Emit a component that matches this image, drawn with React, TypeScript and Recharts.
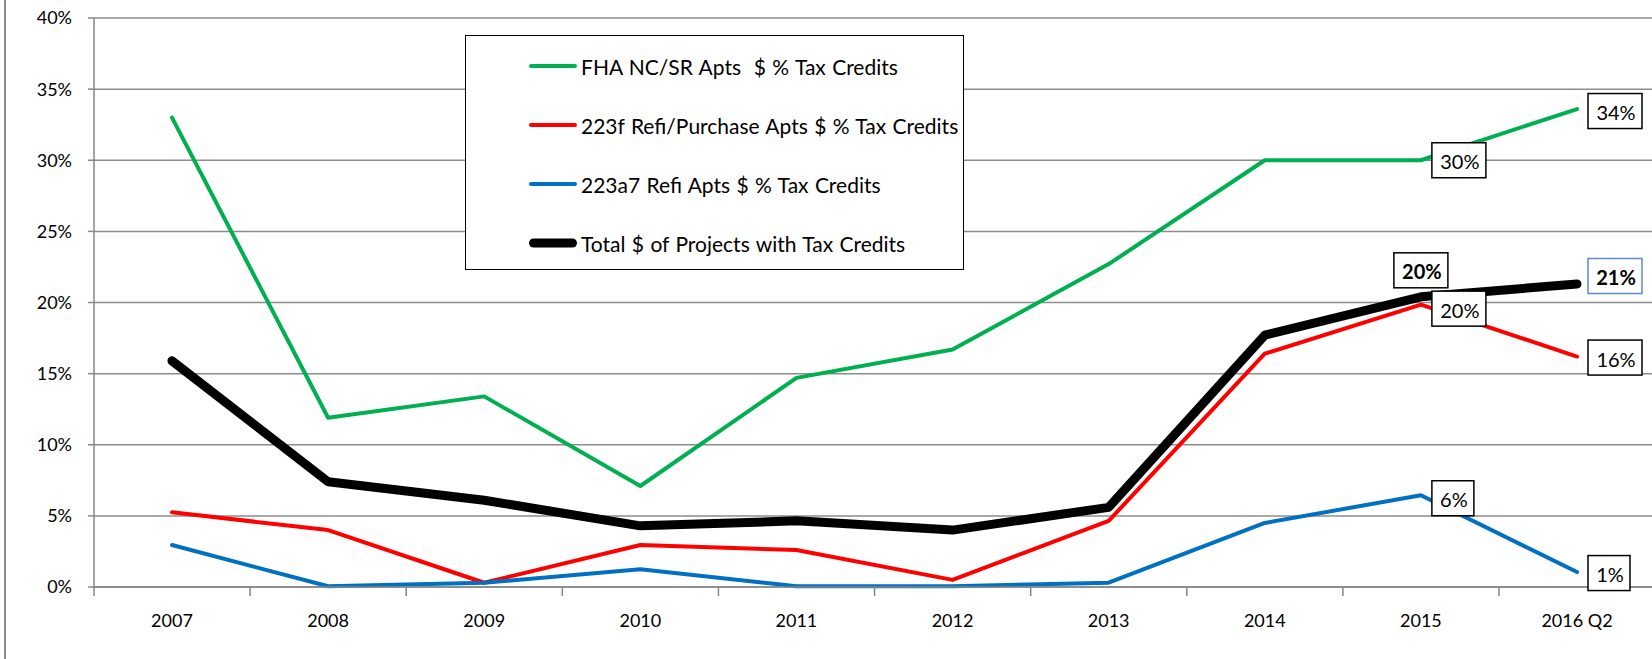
import React from 'react';
import { LineChart, Line, XAxis, YAxis, CartesianGrid, LabelList } from 'recharts';

const categories = ['2007', '2008', '2009', '2010', '2011', '2012', '2013', '2014', '2015', '2016 Q2'];
const fhaNcSr = [33.0, 11.9, 13.4, 7.1, 14.7, 16.7, 22.7, 30.0, 30.0, 33.6];
const refi223f = [5.25, 4.0, 0.3, 2.95, 2.6, 0.5, 4.65, 16.4, 19.85, 16.2];
const refi223a7 = [2.95, 0.05, 0.3, 1.25, 0.05, 0.05, 0.3, 4.5, 6.45, 1.05];
const totalTax = [15.9, 7.4, 6.1, 4.3, 4.65, 4.0, 5.6, 17.7, 20.4, 21.3];
const yTicks = [0, 5, 10, 15, 20, 25, 30, 35, 40];

const seriesKeys = ['fha', 'refi', 'a7', 'total'];
const seriesNames = [
  'FHA NC/SR Apts  $ % Tax Credits',
  '223f Refi/Purchase Apts $ % Tax Credits',
  '223a7 Refi Apts $ % Tax Credits',
  'Total $ of Projects with Tax Credits',
];
const seriesColors = ['#00B050', '#FF0000', '#0070C0', '#000000'];
const seriesWidths = [4, 4, 4, 9];

// which points carry a boxed label: [placement, vertical nudge]
const labelSpots: Record<string, Record<number, [string, number]>> = {
  fha: { 8: ['right', 0], 9: ['right', 2] },
  refi: { 8: ['right', 4], 9: ['right', 1] },
  a7: { 8: ['right', 3], 9: ['right', 1] },
  total: { 8: ['top', 0], 9: ['right', -8] },
};

const data = categories.map((cat, i) => ({
  cat,
  fha: fhaNcSr[i],
  refi: refi223f[i],
  a7: refi223a7[i],
  total: totalTax[i],
}));

const FONT = 'Lato, "Open Sans", sans-serif';
const HALF_STEP = 78;

const XTick = (props: any) => {
  const { x, y, payload } = props;
  return (
    <g>
      <line x1={x - HALF_STEP} x2={x - HALF_STEP} y1={y} y2={y + 9} stroke="#878787" strokeWidth={1.5} />
      <text x={x} y={y + 40} textAnchor="middle" fontSize={18} fill="#000" fontFamily={FONT}>
        {payload.value}
      </text>
    </g>
  );
};

const BoxLabel = (props: any) => {
  const { x, y, value, index, seriesKey } = props;
  const spot = labelSpots[seriesKey][index];
  if (!spot || x == null || y == null) return null;
  const [pos, nudge] = spot;
  const bold = seriesKey === 'total';
  const text = `${Math.round(value)}%`;
  const w = text.length === 2 ? 42 : 54;
  const h = 35;
  let bx = x + 11;
  let by = y - h / 2 + nudge;
  if (pos === 'top') {
    bx = x - w / 2;
    by = y - 9 - h;
  }
  const border = bold && pos === 'right' ? '#5B8BD0' : '#000';
  return (
    <g>
      <rect x={bx} y={by} width={w} height={h} fill="#fff" stroke={border} strokeWidth={1.5} />
      <text
        x={bx + w / 2 + 1}
        y={by + h / 2 + 1}
        textAnchor="middle"
        dominantBaseline="central"
        fontSize={20}
        fontWeight={bold ? 700 : 400}
        fill="#000"
        fontFamily={FONT}
      >
        {text}
      </text>
    </g>
  );
};

const ChartLegend = () => (
  <div
    style={{
      position: 'absolute',
      left: 465,
      top: 35,
      width: 499,
      height: 235,
      border: '1.5px solid #000',
      background: '#fff',
      boxSizing: 'border-box',
    }}
  >
    {seriesNames.map((name, i) => (
      <div
        key={name}
        style={{ position: 'absolute', left: 62, top: 13 + i * 59, height: 34, display: 'flex', alignItems: 'center' }}
      >
        <svg width={50} height={14} style={{ marginRight: 3 }}>
          <line
            x1={seriesWidths[i] / 2 + 1}
            x2={49 - seriesWidths[i] / 2}
            y1={7}
            y2={7}
            stroke={seriesColors[i]}
            strokeWidth={seriesWidths[i]}
            strokeLinecap="round"
          />
        </svg>
        <span style={{ fontFamily: FONT, fontSize: 21, wordSpacing: 1, color: '#000', whiteSpace: 'pre' }}>
          {name}
        </span>
      </div>
    ))}
  </div>
);

export default function App() {
  return (
    <div
      style={{
        position: 'absolute',
        left: 0,
        top: 0,
        width: 1652,
        height: 659,
        overflow: 'hidden',
        background: '#fff',
        fontFamily: FONT,
      }}
    >
      <div style={{ position: 'absolute', left: 4, top: 0, height: 659, borderLeft: '2px solid #8a8a8a' }} />
      <LineChart width={1700} height={659} data={data} margin={{ top: 18, right: 45, bottom: 0, left: 34 }}>
        <CartesianGrid vertical={false} stroke="#8c8c8c" strokeWidth={1.5} />
        <XAxis
          dataKey="cat"
          padding={{ left: HALF_STEP, right: HALF_STEP }}
          height={72}
          interval={0}
          tickLine={false}
          tickSize={0}
          tickMargin={0}
          axisLine={{ stroke: '#878787', strokeWidth: 1.5 }}
          tick={<XTick />}
        />
        <YAxis
          domain={[0, 40]}
          ticks={yTicks}
          width={60}
          tickFormatter={(v: number) => `${v}%`}
          axisLine={{ stroke: '#878787', strokeWidth: 1.5 }}
          tickLine={{ stroke: '#878787', strokeWidth: 1.5 }}
          tickSize={6}
          tickMargin={16}
          tick={{ fontSize: 18, fill: '#000', fontFamily: FONT }}
        />
        {seriesKeys.map((k, i) => (
          <Line
            key={k}
            type="linear"
            dataKey={k}
            stroke={seriesColors[i]}
            strokeWidth={seriesWidths[i]}
            strokeLinecap="round"
            strokeLinejoin="round"
            dot={false}
            activeDot={false}
            isAnimationActive={false}
          />
        ))}
        {seriesKeys.map((k) => (
          <Line
            key={`${k}-labels`}
            type="linear"
            dataKey={k}
            stroke="none"
            dot={false}
            activeDot={false}
            isAnimationActive={false}
          >
            <LabelList dataKey={k} content={(p: any) => <BoxLabel {...p} seriesKey={k} />} />
          </Line>
        ))}
      </LineChart>
      <ChartLegend />
    </div>
  );
}
